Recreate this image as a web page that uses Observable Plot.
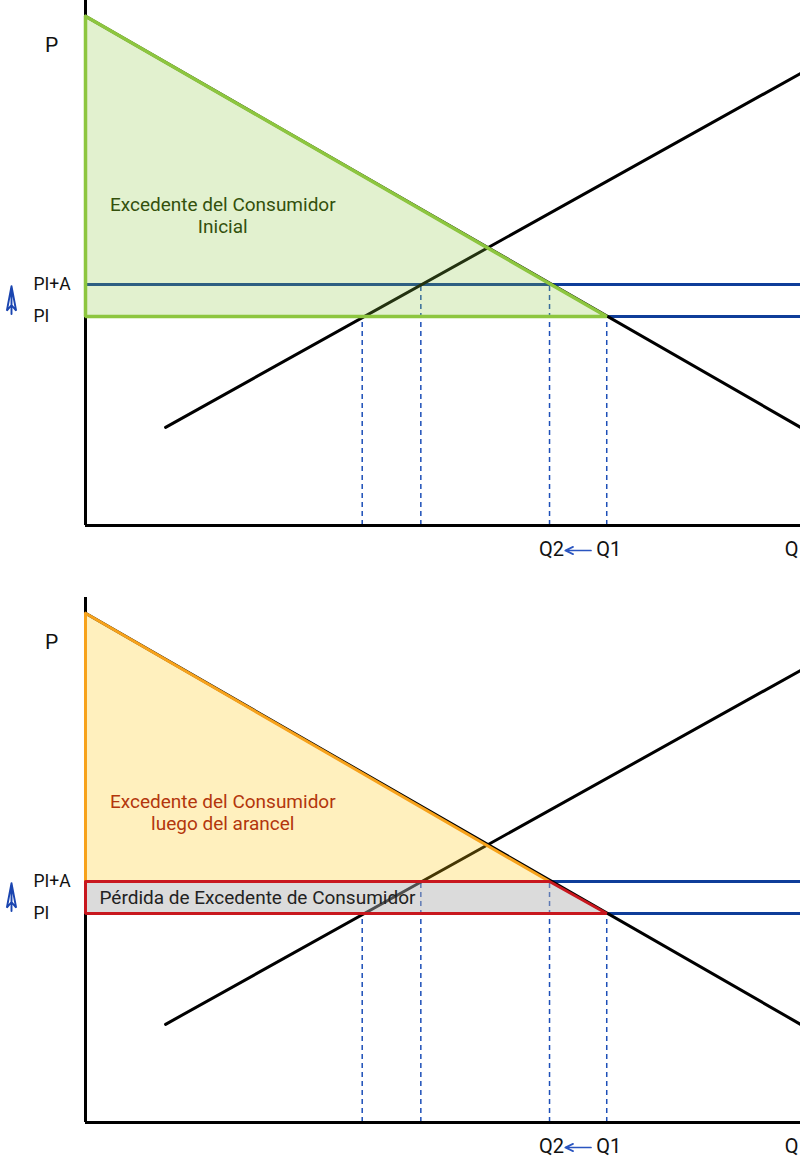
<!DOCTYPE html>
<html><head><meta charset="utf-8">
<script src="https://cdn.jsdelivr.net/npm/d3@7"></script>
<script src="https://cdn.jsdelivr.net/npm/@observablehq/plot@0.6"></script>
<style>body{margin:0;background:#fff}#chart svg{display:block;overflow:visible}</style>
</head><body><div id="chart"></div>
<script>
// Values (Q: 0-100, P: 0-100)
const PI = 39.8;
const PIA = 45.9;
const Q1 = 72.9;
const Q2 = 64.9;
const demand = [{q: 0, p: 97}, {q: 100, p: 18.7}];
const supply = [{q: 11.2, p: 18.7}, {q: 100, p: 86.1}];
const priceLines = [{name: "PI+A", p: 45.9}, {name: "PI", p: 39.8}];
const dashedQ = [{q: 38.7, p: 39.8}, {q: 46.9, p: 45.9}, {q: 64.9, p: 45.9}, {q: 72.9, p: 39.8}];
const qLabels = [{q: 64.9, label: "Q2"}, {q: 72.9, label: "Q1"}];
const qArrow = [{from: 70.7, to: 67.1}];
// tariff icon (price rises from PI to PI+A), drawn left of the axis
const tariffIcon = [
  {q: -10.35, p: 45.6}, {q: -11.0, p: 40.9}, {q: -10.35, p: 42.0},
  {q: -9.7, p: 40.9}, {q: -10.35, p: 45.6}, {q: -10.35, p: 40.3}
];
const consumerTriangle = [{q: 0, lo: 39.8, hi: 97}, {q: 72.9, lo: 39.8, hi: 39.8}];
const consumerOutline = [{q: 0, p: 97}, {q: 72.9, p: 39.8}, {q: 0, p: 39.8}, {q: 0, p: 97}];
const afterTriangle = [{q: 0, lo: 45.9, hi: 97}, {q: 64.9, lo: 45.9, hi: 45.9}];
const afterOutline = [{q: 0, p: 97}, {q: 64.9, p: 45.9}, {q: 0, p: 45.9}, {q: 0, p: 97}];
const lossArea = [{q: 0, lo: 39.8, hi: 45.9}, {q: 64.9, lo: 39.8, hi: 45.9}, {q: 72.9, lo: 39.8, hi: 39.8}];
const lossOutline = [{q: 0, p: 45.9}, {q: 64.9, p: 45.9}, {q: 72.9, p: 39.8}, {q: 0, p: 39.8}, {q: 0, p: 45.9}];

const FONT = "Roboto, 'Liberation Sans', sans-serif";
const BLUE = "#0f3d99";
const DASH = "#1d4fb8";

function panel(height, overlay) {
  return Plot.plot({
    width: 800, height,
    marginLeft: 85, marginRight: 0, marginTop: 0, marginBottom: height - 525,
    x: {domain: [0, 100], axis: null},
    y: {domain: [0, 100], axis: null},
    style: {fontFamily: FONT, background: "#fff", overflow: "visible"},
    marks: [
      Plot.ruleY(priceLines, {y: "p", x1: 0, x2: 100, stroke: BLUE, strokeWidth: 3}),
      Plot.ruleX(dashedQ, {x: "q", y1: 0, y2: "p", stroke: DASH, strokeWidth: 1.5, strokeDasharray: "5,4"}),
      Plot.line(demand, {x: "q", y: "p", stroke: "#000", strokeWidth: 3}),
      Plot.line(supply, {x: "q", y: "p", stroke: "#000", strokeWidth: 3}),
      Plot.ruleX([0], {y1: 0, y2: 100, stroke: "#000", strokeWidth: 3}),
      Plot.ruleY([0], {x1: 0, x2: 100, stroke: "#000", strokeWidth: 3}),
      ...overlay,
      Plot.text(["P"], {x: 0, y: 100, dx: -34, dy: 45, fontSize: 21, fill: "#111", text: d => d}),
      Plot.text(priceLines, {x: 0, y: "p", text: "name", dx: -52, textAnchor: "start", fontSize: 17.5, fill: "#111"}),
      Plot.text(qLabels, {x: "q", y: 0, dx: 2, dy: 24, text: "label", fontSize: 20, fill: "#111"}),
      Plot.text(["Q"], {x: 100, y: 0, dx: -9, dy: 24, text: d => d, fontSize: 20, fill: "#111"}),
      Plot.arrow(qArrow, {x1: "from", x2: "to", y1: 0, y2: 0, dy: 25, stroke: "#2a55c0", strokeWidth: 1.7, headLength: 10, headAngle: 50}),
      Plot.line(tariffIcon, {x: "q", y: "p", stroke: "#1a45b0", strokeWidth: 1.9, strokeLinejoin: "miter"})
    ]
  });
}

const topPanel = panel(597, [
  Plot.areaY(consumerTriangle, {x: "q", y1: "lo", y2: "hi", fill: "#8dc63f", fillOpacity: 0.25}),
  Plot.line(consumerOutline, {x: "q", y: "p", stroke: "#8dc63f", strokeWidth: 3.5, strokeLinejoin: "miter"}),
  Plot.text(["Excedente del Consumidor\nInicial"], {x: 19.2, y: 59.2, text: d => d, fontSize: 19, fill: "#33500c", lineHeight: 1.16})
]);

const bottomPanel = panel(559, [
  Plot.areaY(afterTriangle, {x: "q", y1: "lo", y2: "hi", fill: "#ffc90e", fillOpacity: 0.27}),
  Plot.line(afterOutline, {x: "q", y: "p", stroke: "#f7a21b", strokeWidth: 3, strokeLinejoin: "miter"}),
  Plot.areaY(lossArea, {x: "q", y1: "lo", y2: "hi", fill: "#b0b0b0", fillOpacity: 0.45}),
  Plot.line(lossOutline, {x: "q", y: "p", stroke: "#c8171e", strokeWidth: 3, strokeLinejoin: "miter"}),
  Plot.text(["Excedente del Consumidor\nluego del arancel"], {x: 19.2, y: 59.2, text: d => d, fontSize: 19, fill: "#b3360c", lineHeight: 1.16}),
  Plot.text(["Pérdida de Excedente de Consumidor"], {x: 0, y: (PI + PIA) / 2, dx: 14, text: d => d, textAnchor: "start", fontSize: 19, fill: "#222"})
]);

document.getElementById("chart").append(topPanel, bottomPanel);
</script>
</body></html>
